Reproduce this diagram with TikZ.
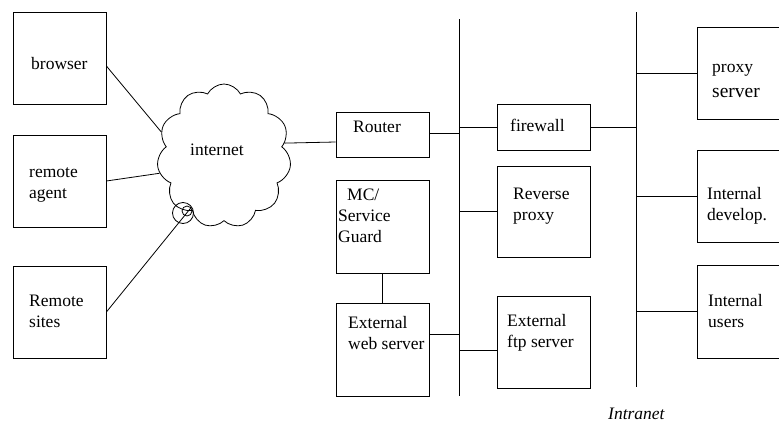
\documentclass[tikz,border=0pt]{standalone}
\usepackage{fontspec}
\setmainfont{Liberation Serif}
\usetikzlibrary{shapes.symbols,calc}
\begin{document}
\begin{tikzpicture}[x=1pt,y=-1pt,
  box/.style={draw, line width=0.8pt, minimum width=93pt, inner sep=0pt},
  lbl/.style={anchor=base west, align=left, inner sep=0pt, font=\fontsize{17.5}{21}\selectfont},
  wire/.style={line width=0.8pt}]
\clip (0,0) rectangle (779,423);
% left boxes
\node[box, minimum height=92pt] (browser) at (59.5,58) {};
\node[box, minimum height=92pt] (agent) at (59.5,181) {};
\node[box, minimum height=92pt] (sites) at (59.5,312) {};
\node[lbl] (tbrowser) at (31,69) {browser};
\node[lbl] (tagent) at (29,198) {remote\\agent};
\node[lbl] (tsites) at (29,327) {Remote\\sites};
% cloud
\node[cloud, draw, wire, cloud puffs=11, cloud puff arc=125, aspect=0.93,
      minimum width=134pt, minimum height=144pt, inner sep=0pt] (cloud) at (224,156) {};
\node[lbl] (tcloud) at (190,155) {internet};
\node[circle, draw, wire, minimum size=21pt, inner sep=0pt] (port) at (183,213) {};
\node[circle, draw, wire, minimum size=10pt, inner sep=0pt] (porti) at (187,211) {};
% middle column
\node[box, minimum height=45pt] (router) at (382.5,134.5) {};
\node[box, minimum height=93pt] (mc) at (382.5,226.5) {};
\node[box, minimum height=93pt] (web) at (382.5,349.5) {};
\node[lbl] (trouter) at (353,132) {Router};
\node[lbl] (tmc) at (338,242) {\hspace*{9pt}MC/\\Service\\Guard};
\node[lbl] (tweb) at (348,349) {External\\web server};
% second column
\node[box, minimum height=46pt] (firewall) at (543.5,127) {};
\node[box, minimum height=91pt] (rproxy) at (543.5,211.5) {};
\node[box, minimum height=92pt] (ftp) at (543.5,342) {};
\node[lbl] (tfirewall) at (510,131) {firewall};
\node[lbl] (trproxy) at (513,220) {Reverse\\proxy};
\node[lbl] (tftp) at (507,347) {External\\ftp server};
% right column
\node[box, minimum height=92pt] (proxy) at (743.5,73) {};
\node[box, minimum height=92pt] (develop) at (743.5,196) {};
\node[box, minimum height=93pt] (users) at (743.5,311.5) {};
\node[lbl] (tproxy) at (712,97) {proxy\\[4pt]{\fontsize{19.5}{21}\selectfont server}};
\node[lbl] (tdevelop) at (707,220) {Internal\\develop.};
\node[lbl] (tusers) at (708,327) {Internal\\users};
\node[lbl, font=\itshape\fontsize{17.5}{21}\selectfont] (intranet) at (608,419) {Intranet};
% buses
\coordinate (b1t) at (459,19);
\coordinate (b1b) at (459,396);
\coordinate (b2t) at (636,12);
\coordinate (b2b) at (636,387);
\draw[wire] (b1t) -- (b1b);
\draw[wire] (b2t) -- (b2b);
% connectors
\draw[wire] ([yshift=-8pt]browser.east) -- (cloud.159);
\draw[wire] (agent.east) -- (cloud.195);
\draw[wire] (sites.east) -- (porti.40);
\draw[wire] (cloud.12) -- ([yshift=-7.5pt]router.west);
\draw[wire] ([yshift=1.5pt]router.east) -- ([yshift=1.5pt]router.east -| b1t);
\draw[wire] (mc.south) -- (web.north);
\draw[wire] ([yshift=15.5pt]web.east) -- ([yshift=15.5pt]web.east -| b1t);
\draw[wire] (firewall.west -| b1t) -- (firewall.west);
\draw[wire] (rproxy.west -| b1t) -- (rproxy.west);
\draw[wire] ([yshift=-8pt]ftp.west -| b1t) -- ([yshift=-8pt]ftp.west);
\draw[wire] (firewall.east) -- (firewall.east -| b2t);
\draw[wire] (proxy.west -| b2t) -- (proxy.west);
\draw[wire] (develop.west -| b2t) -- (develop.west);
\draw[wire] (users.west -| b2t) -- (users.west);
\end{tikzpicture}
\end{document}
